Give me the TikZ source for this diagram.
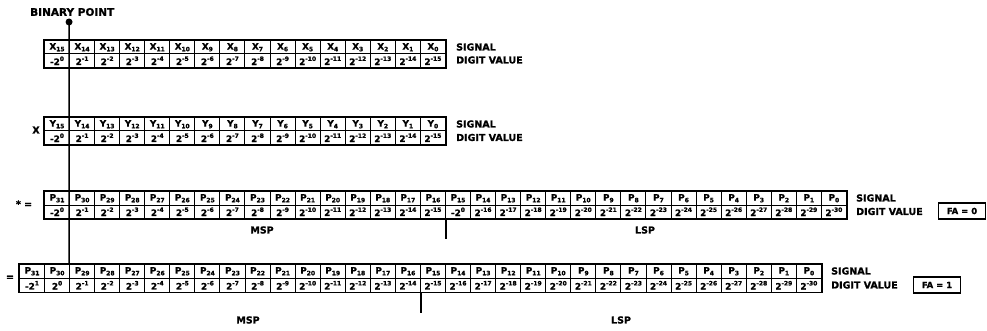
\documentclass[tikz,border=0pt]{standalone}
\usepackage{fontspec}
\setmainfont{DejaVu Sans}[BoldFeatures={FakeBold=1.2}]
\newcommand\sg[2]{#1\raisebox{-0.35ex}{\fontsize{6}{6}\selectfont#2}}
\newcommand\pw[1]{2\raisebox{0.85ex}{\fontsize{6}{6}\selectfont#1}}
\tikzset{
  cell/.style={draw, line width=1pt, minimum width=25.06pt, minimum height=13.5pt,
    inner sep=0pt, anchor=north west, font=\bfseries\fontsize{8.8}{8.8}\selectfont},
  lbl/.style={anchor=west, inner sep=0pt, font=\bfseries\fontsize{9.5}{10}\selectfont},
  clbl/.style={inner sep=0pt, font=\bfseries\fontsize{9.5}{10}\selectfont},
  frame/.style={line width=1.8pt},
  fabox/.style={draw, line width=1.4pt, minimum width=47pt, minimum height=16pt,
    inner sep=0pt, font=\bfseries\fontsize{8.5}{8.5}\selectfont},
  tickline/.style={line width=1.2pt},
  bpline/.style={line width=1.6pt}
}
\begin{document}
\begin{tikzpicture}[x=1pt,y=-1pt]
\useasboundingbox (0,0) rectangle (987,331);
% ---- row 1: X
\foreach \i in {0,...,15}{
  \pgfmathtruncatemacro\k{15-\i}
  \pgfmathsetmacro\xx{44+\i*25.06}
  \node[cell] (r1s\k) at (\xx,40) {\sg{X}{\k}};
  \ifnum\i=0 \node[cell] (r1d\k) at (\xx,53.5) {-\pw{0}};
  \else \node[cell] (r1d\k) at (\xx,53.5) {\pw{-\i}}; \fi
}
\draw[frame] (r1s15.north west) rectangle (r1d0.south east);
\node[lbl] (sig1) at (456,47) {SIGNAL};
\node[lbl] (dv1) at (456,60) {DIGIT VALUE};
% ---- row 2: Y
\foreach \i in {0,...,15}{
  \pgfmathtruncatemacro\k{15-\i}
  \pgfmathsetmacro\xx{44+\i*25.06}
  \node[cell] (r2s\k) at (\xx,117) {\sg{Y}{\k}};
  \ifnum\i=0 \node[cell] (r2d\k) at (\xx,130.5) {-\pw{0}};
  \else \node[cell] (r2d\k) at (\xx,130.5) {\pw{-\i}}; \fi
}
\draw[frame] (r2s15.north west) rectangle (r2d0.south east);
\node[lbl] (sig2) at (456,124) {SIGNAL};
\node[lbl] (dv2) at (456,137.5) {DIGIT VALUE};
\node[clbl] (times) at (36,130) {X};
% ---- row 3: P (FA = 0)
\foreach \i in {0,...,31}{
  \pgfmathtruncatemacro\k{31-\i}
  \pgfmathtruncatemacro\e{\i-1}
  \pgfmathsetmacro\xx{44+\i*25.06}
  \node[cell] (r3s\k) at (\xx,191) {\sg{P}{\k}};
  \ifnum\i=0 \node[cell] (r3d\k) at (\xx,204.5) {-\pw{0}};
  \else\ifnum\i<16 \node[cell] (r3d\k) at (\xx,204.5) {\pw{-\i}};
  \else\ifnum\i=16 \node[cell] (r3d\k) at (\xx,204.5) {-\pw{0}};
  \else \node[cell] (r3d\k) at (\xx,204.5) {\pw{-\e}}; \fi\fi\fi
}
\draw[frame] (r3s31.north west) rectangle (r3d0.south east);
\node[lbl] (sig3) at (856,198) {SIGNAL};
\node[lbl] (dv3) at (856,211.5) {DIGIT VALUE};
\node[fabox] (fa0) at (962,211) {FA = 0};
\node[clbl] (steq) at (24,204) {*\,\,=};
\node[clbl] (msp3) at (262,230) {MSP};
\node[clbl] (lsp3) at (645,230) {LSP};
\coordinate (t3) at ([yshift=-20pt]r3d16.south east);
\draw[tickline] (r3d16.south east) -- (t3);
% ---- row 4: P (FA = 1)
\foreach \i in {0,...,31}{
  \pgfmathtruncatemacro\k{31-\i}
  \pgfmathtruncatemacro\e{\i-1}
  \pgfmathsetmacro\xx{19+\i*25.06}
  \node[cell] (r4s\k) at (\xx,264) {\sg{P}{\k}};
  \ifnum\i=0 \node[cell] (r4d\k) at (\xx,278) {-\pw{1}};
  \else\ifnum\i=1 \node[cell] (r4d\k) at (\xx,278) {\pw{0}};
  \else \node[cell] (r4d\k) at (\xx,278) {\pw{-\e}}; \fi\fi
}
\draw[frame] (r4s31.north west) rectangle (r4d0.south east);
\node[lbl] (sig4) at (831,271) {SIGNAL};
\node[lbl] (dv4) at (831,285) {DIGIT VALUE};
\node[fabox] (fa1) at (937,285) {FA = 1};
\node[clbl] (eq4) at (10,278) {=};
\node[clbl] (msp4) at (248,320) {MSP};
\node[clbl] (lsp4) at (621,320) {LSP};
\coordinate (t4) at ([yshift=-20pt]r4d16.south east);
\draw[tickline] (r4d16.south east) -- (t4);
% ---- binary point
\node[lbl, font=\bfseries\fontsize{10.5}{11}\selectfont] (bplbl) at (30,12) {BINARY POINT};
\node[circle, fill, inner sep=0pt, minimum size=7pt] (bp) at (69.06,22) {};
\draw[bpline] (bp.center) -- (r4s29.north west);
\end{tikzpicture}
\end{document}
